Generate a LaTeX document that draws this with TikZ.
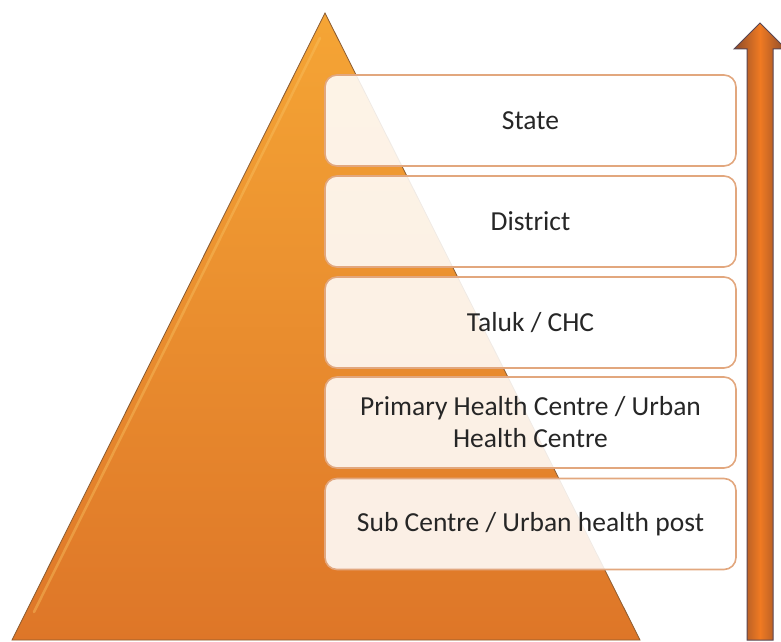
\documentclass[tikz,border=0pt]{standalone}
\usepackage{fontspec}
\setmainfont{Carlito}
\definecolor{triTop}{HTML}{F5A535}
\definecolor{triBot}{HTML}{DE7628}
\definecolor{triEdge}{HTML}{8A5A30}
\definecolor{boxEdge}{HTML}{E2A77E}
\definecolor{txt}{HTML}{262626}
\definecolor{arrMid}{HTML}{F07A22}
\definecolor{arrDark}{HTML}{8A4A2A}
\definecolor{arrEdge}{HTML}{5A4652}
\definecolor{hilite}{HTML}{F8C060}
\begin{document}
\begin{tikzpicture}[x=1bp,y=-1bp,
  level/.style={draw=boxEdge, line width=1.6bp, rounded corners=12bp,
    fill=white, fill opacity=0.88, text opacity=1,
    minimum width=411bp, minimum height=91bp, inner sep=0pt,
    align=center, text=txt, font=\fontsize{27.5bp}{32bp}\selectfont}]
\useasboundingbox (0,0) rectangle (781,642);
% pyramid
\coordinate (apex) at (325,13);
\coordinate (bl) at (12,640);
\coordinate (br) at (640,640);
\shade[top color=triTop, bottom color=triBot, draw=triEdge, line width=0.8bp]
  (apex) -- (br) -- (bl) -- cycle;
\coordinate (h1) at (320,38);
\coordinate (h2) at (34,612);
\draw[line width=2.5bp, color=hilite, opacity=0.45, line cap=round] (h1) -- (h2);
% arrow
\coordinate (atip) at (760,23);
\shade[left color=arrDark, right color=arrDark, middle color=arrMid,
  draw=arrEdge, line width=1bp]
  (atip) -- (786,49) -- (773,49) -- (773,640) -- (747,640) -- (747,49) -- (734,49) -- cycle;
% levels
\node[level] (state) at (530.5,120.5) {State};
\node[level] (district) at (530.5,221.5) {District};
\node[level] (taluk) at (530.5,322.5) {Taluk / CHC};
\node[level] (phc) at (530.5,422.5) {Primary Health Centre / Urban\\Health Centre};
\node[level] (sub) at (530.5,524) {Sub Centre / Urban health post};
\end{tikzpicture}
\end{document}
